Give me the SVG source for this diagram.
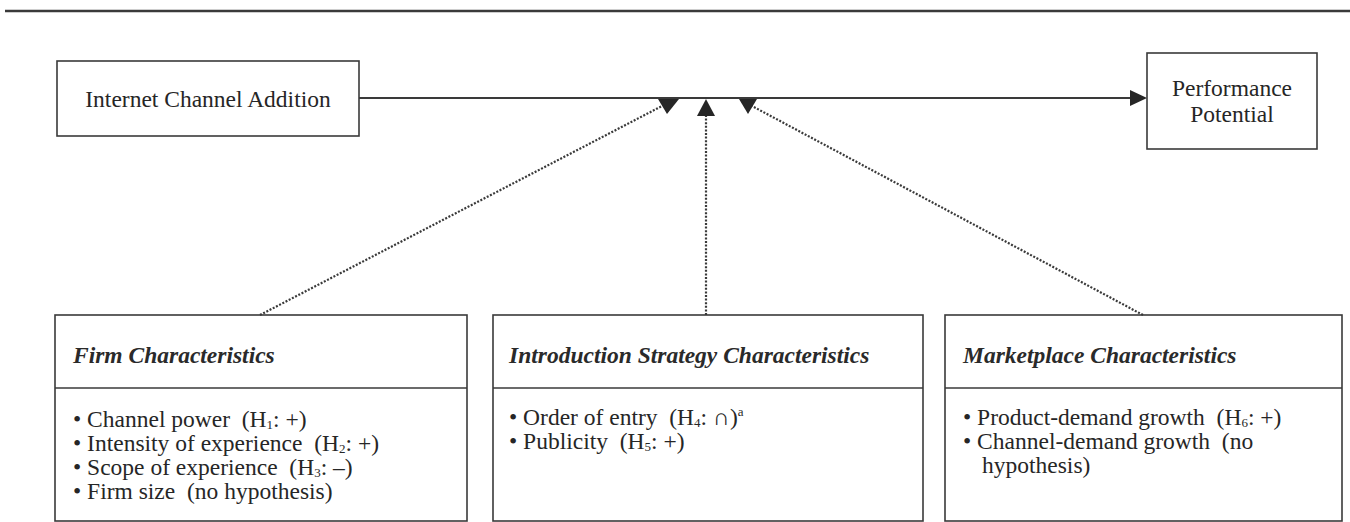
<svg xmlns="http://www.w3.org/2000/svg" width="1350" height="522" viewBox="0 0 1350 522">
<style>
.box{fill:none;stroke:#3a3a3a;stroke-width:1.6}
.t{font-family:"Liberation Serif","Times New Roman",serif;font-size:23.5px;fill:#262626;white-space:pre}
.h{font-family:"Liberation Serif","Times New Roman",serif;font-size:23.5px;font-style:italic;font-weight:bold;fill:#2a2a2a}
.sub{font-size:13px}
.dot{fill:none;stroke:#3a3a3a;stroke-width:2.2;stroke-dasharray:2,1.6}
.solid{fill:none;stroke:#3a3a3a;stroke-width:1.8}
.ah{fill:#262626}
</style>
<rect width="1350" height="522" fill="#ffffff"/>
<line x1="5" y1="11" x2="1350" y2="11" stroke="#3a3a3a" stroke-width="2.5"/>

<g id="connectors">
<line class="solid" x1="359" y1="98" x2="1132" y2="98"/>
<polygon class="ah" points="1130,90 1147,98 1130,106"/>
<line class="dot" x1="260" y1="315" x2="662" y2="106"/>
<polygon class="ah" points="658,99 679,99 667,114"/>
<line class="dot" x1="706" y1="315" x2="706" y2="116"/>
<polygon class="ah" points="706,99 697,116 715,116"/>
<line class="dot" x1="1143" y1="315" x2="752" y2="106"/>
<polygon class="ah" points="739,99 757,99 748,114"/>
</g>

<g id="internet">
<rect class="box" x="57" y="61" width="302" height="75"/>
<text class="t" x="208" y="107" text-anchor="middle">Internet Channel Addition</text>
</g>

<g id="performance">
<rect class="box" x="1147" y="53" width="170" height="96"/>
<text class="t" x="1232" y="96" text-anchor="middle">Performance</text>
<text class="t" x="1232" y="122" text-anchor="middle">Potential</text>
</g>

<g id="firm">
<rect class="box" x="55" y="315" width="412" height="206"/>
<line class="box" x1="55" y1="388" x2="467" y2="388"/>
<text class="h" x="73" y="363">Firm Characteristics</text>
<text class="t" x="73" y="427">• Channel power  (H<tspan class="sub" dy="2">1</tspan><tspan dy="-2">: +)</tspan></text>
<text class="t" x="73" y="451">• Intensity of experience  (H<tspan class="sub" dy="2">2</tspan><tspan dy="-2">: +)</tspan></text>
<text class="t" x="73" y="475">• Scope of experience  (H<tspan class="sub" dy="2">3</tspan><tspan dy="-2">: –)</tspan></text>
<text class="t" x="73" y="499">• Firm size  (no hypothesis)</text>
</g>

<g id="introduction">
<rect class="box" x="493" y="315" width="430" height="206"/>
<line class="box" x1="493" y1="388" x2="923" y2="388"/>
<text class="h" x="509" y="363">Introduction Strategy Characteristics</text>
<text class="t" x="509" y="425">• Order of entry  (H<tspan class="sub" dy="2">4</tspan><tspan dy="-2">: ∩)</tspan><tspan class="sub" dy="-9">a</tspan></text>
<text class="t" x="509" y="449">• Publicity  (H<tspan class="sub" dy="2">5</tspan><tspan dy="-2">: +)</tspan></text>
</g>

<g id="marketplace">
<rect class="box" x="945" y="315" width="397" height="206"/>
<line class="box" x1="945" y1="388" x2="1342" y2="388"/>
<text class="h" x="963" y="363">Marketplace Characteristics</text>
<text class="t" x="963" y="425">• Product-demand growth  (H<tspan class="sub" dy="2">6</tspan><tspan dy="-2">: +)</tspan></text>
<text class="t" x="963" y="449">• Channel-demand growth  (no</text>
<text class="t" x="982" y="473">hypothesis)</text>
</g>
</svg>
